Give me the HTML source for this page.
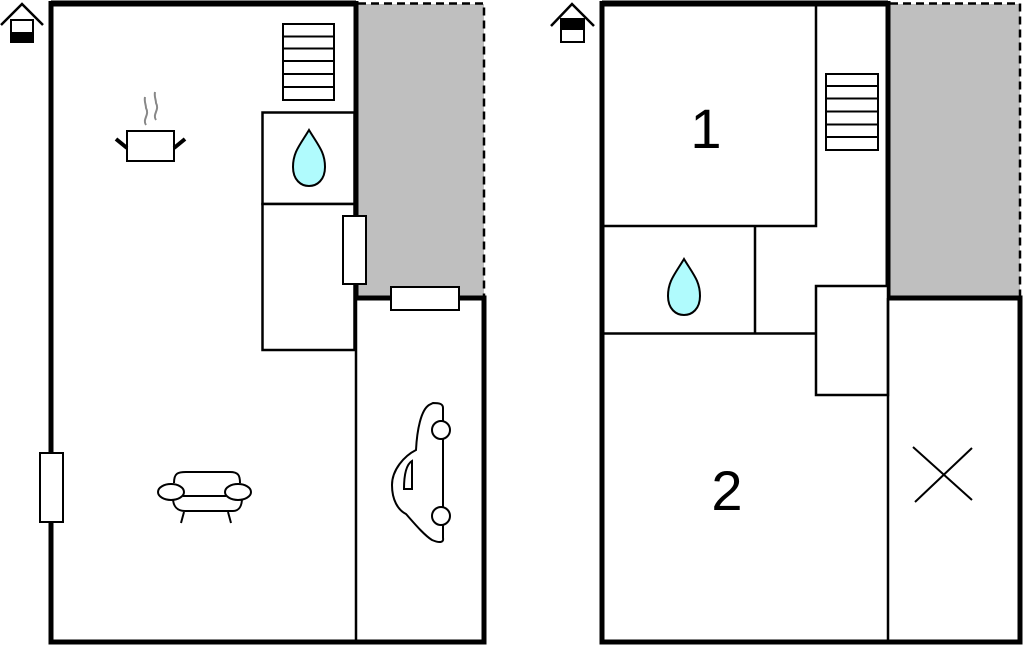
<!DOCTYPE html>
<html><head><meta charset="utf-8"><style>html,body{margin:0;padding:0;background:#fff;width:1024px;height:647px;overflow:hidden}</style></head>
<body>
<svg width="1024" height="647" viewBox="0 0 1024 647" xmlns="http://www.w3.org/2000/svg" fill="none" stroke="#000">
<!-- LEFT PLAN -->
<rect x="358" y="4" width="126" height="293" fill="#bfbfbf" stroke="none"/>
<path d="M358 3.5H484V297" stroke-width="2.5" stroke-dasharray="8,5"/>
<path d="M51 3.5V642H484V298H356V3.5Z" stroke-width="5" fill="none"/>
<path d="M51 3.5H356" stroke-width="6"/>
<line x1="356" y1="298" x2="356" y2="642" stroke-width="2.5"/>
<!-- stairs -->
<rect x="283" y="24" width="51" height="76" stroke-width="2" fill="#fff"/>
<path d="M283 36.5H334M283 48.5H334M283 61H334M283 74H334M283 87H334" stroke-width="2"/>
<rect x="262.5" y="112.5" width="92" height="91.5" stroke-width="2.5" fill="#fff"/>
<rect x="262.5" y="204" width="92" height="146" stroke-width="2.5" fill="#fff"/>
<path d="M309 130 C300 145 293 152 293 167 C293 180 301 186 309 186 C317 186 325 180 325 167 C325 152 318 145 309 130Z" fill="#b0fbfd" stroke-width="2"/>
<rect x="343" y="216" width="23" height="68" stroke-width="2" fill="#fff"/>
<rect x="391" y="287" width="68" height="23" stroke-width="2" fill="#fff"/>
<rect x="40" y="453" width="23" height="69" stroke-width="2" fill="#fff"/>
<!-- pot -->
<path d="M146 125c-4-6 4-10 0-17 0-4-2-6-1-11M156 120c-4-6 4-10 0-17 0-4-2-6-1-11" stroke="#888" stroke-width="2"/>
<path d="M127 131H174V161H127Z" stroke-width="2"/>
<path d="M116 139L127 148M185 139L174 148" stroke-width="4"/>
<!-- sofa -->
<g stroke-width="2">
<path d="M174 483c0-10 4-11 12-11h44c8 0 10 3 10 11"/>
<path d="M173 498c0 8 4 13 12 13h48c6 0 9-5 9-13"/>
<ellipse cx="171" cy="492" rx="13" ry="8" fill="#fff"/>
<ellipse cx="238" cy="492" rx="13" ry="8" fill="#fff"/>
<line x1="183" y1="496" x2="226" y2="496"/>
<path d="M184 512l-3 11M228 512l3 11"/>
</g>
<!-- car -->
<g stroke-width="2">
<path d="M443 408c0-4-3-5-10-5l-4 2c-8 5-12 25-13 45c-12 6-24 20-24 35c0 15 6 25 14 29c8 9 18 21 26 26c7 3 12 3 11-2V408Z" fill="#fff"/>
<circle cx="441" cy="430" r="9" fill="#fff"/>
<circle cx="441" cy="516" r="9" fill="#fff"/>
<path d="M412 461c-5 3-8 12-8 28h8Z"/>
</g>
<!-- house icon left -->
<path d="M1 25L22 4L43 25" stroke-width="2.5"/>
<rect x="11" y="20" width="22" height="22" stroke-width="2"/>
<rect x="11" y="32" width="22" height="10" fill="#000" stroke="none"/>

<!-- RIGHT PLAN -->
<rect x="890" y="4" width="130" height="293" fill="#bfbfbf" stroke="none"/>
<path d="M890 3.5H1020V297" stroke-width="2.5" stroke-dasharray="8,5"/>
<path d="M602 3.5V642H1020V298H888V3.5Z" stroke-width="5"/>
<path d="M602 3.5H888" stroke-width="6"/>
<g stroke-width="2.5">
<path d="M816 3.5V226H602"/>
<path d="M755 226V333"/>
<path d="M602 333.5H816"/>
<rect x="816" y="286" width="72" height="109" fill="#fff"/>
<line x1="888" y1="298" x2="888" y2="642"/>
</g>
<rect x="826" y="74" width="52" height="76" stroke-width="2" fill="#fff"/>
<path d="M826 86H878M826 98.5H878M826 111.5H878M826 124.5H878M826 137H878" stroke-width="2"/>
<path d="M684 259C675 274 668 281 668 296C668 309 676 315 684 315C692 315 700 309 700 296C700 281 693 274 684 259Z" fill="#b0fbfd" stroke-width="2"/>
<path d="M913 447L972 500M915 502L972 448" stroke-width="2"/>
<text x="706" y="148" font-family="Liberation Sans, sans-serif" font-size="56" fill="#000" stroke="none" text-anchor="middle">1</text>
<text x="727" y="510" font-family="Liberation Sans, sans-serif" font-size="56" fill="#000" stroke="none" text-anchor="middle">2</text>
<!-- house icon right -->
<path d="M551 26L572 4L594 26" stroke-width="2.5"/>
<rect x="561" y="19" width="23" height="23" stroke-width="2"/>
<rect x="561" y="19" width="23" height="11" fill="#000" stroke="none"/>
</svg>
</body></html>
